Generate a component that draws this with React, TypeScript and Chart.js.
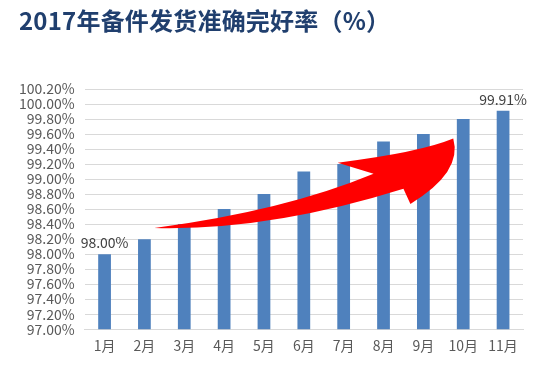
import React, { useEffect, useRef } from "react";
import { Chart, registerables } from "chart.js";

Chart.register(...registerables);

const title = "2017年备件发货准确完好率（%）";
const categories = ["1月", "2月", "3月", "4月", "5月", "6月", "7月", "8月", "9月", "10月", "11月"];
const values = [98.0, 98.2, 98.4, 98.6, 98.8, 99.1, 99.2, 99.5, 99.6, 99.8, 99.91];
const labeledIndices = [0, 10];
const yMin = 97.0;
const yMax = 100.2;
const yStep = 0.2;

// Decorative arrow outline in (category index, value) units
const arrowTail = [1.25, 98.348];
const arrowCtrlTop = [4.5, 98.576];
const arrowNotchTop = [6.75, 99.071];
const arrowWingTop = [5.85, 99.218];
const arrowCtrlOuter = [7.9, 99.352];
const arrowTip = [8.75, 99.539];
const arrowCtrlRight = [8.99, 99.091];
const arrowWingBot = [7.675, 98.669];
const arrowNotchBot = [7.5, 98.87];
const arrowCtrlBot = [4.125, 98.308];

const FONT = "'Noto Sans CJK SC', 'Noto Sans', sans-serif";

const arrowPlugin = {
  id: "arrowDecor",
  afterDatasetsDraw(chart: any) {
    const xs = chart.scales.x;
    const ys = chart.scales.y;
    const p = (pt: number[]) => [xs.getPixelForValue(pt[0]), ys.getPixelForValue(pt[1])];
    const ctx = chart.ctx;
    const t = p(arrowTail);
    const c1 = p(arrowCtrlTop);
    const nt = p(arrowNotchTop);
    const wt = p(arrowWingTop);
    const c2 = p(arrowCtrlOuter);
    const tip = p(arrowTip);
    const c3 = p(arrowCtrlRight);
    const wb = p(arrowWingBot);
    const nb = p(arrowNotchBot);
    const c4 = p(arrowCtrlBot);
    ctx.save();
    ctx.beginPath();
    ctx.moveTo(t[0], t[1]);
    ctx.quadraticCurveTo(c1[0], c1[1], nt[0], nt[1]);
    ctx.lineTo(wt[0], wt[1]);
    ctx.quadraticCurveTo(c2[0], c2[1], tip[0], tip[1]);
    ctx.quadraticCurveTo(c3[0], c3[1], wb[0], wb[1]);
    ctx.lineTo(nb[0], nb[1]);
    ctx.quadraticCurveTo(c4[0], c4[1], t[0], t[1]);
    ctx.closePath();
    ctx.fillStyle = "#FF0000";
    ctx.fill();
    ctx.restore();
  },
};

const valueLabelPlugin = {
  id: "valueLabels",
  afterDatasetsDraw(chart: any) {
    const meta = chart.getDatasetMeta(0);
    const ctx = chart.ctx;
    ctx.save();
    ctx.font = `14px ${FONT}`;
    ctx.fillStyle = "#404040";
    ctx.textAlign = "center";
    ctx.textBaseline = "bottom";
    labeledIndices.forEach((i) => {
      const el = meta.data[i];
      ctx.fillText(values[i].toFixed(2) + "%", el.x, el.y - 4);
    });
    ctx.restore();
  },
};

export default function App() {
  const ref = useRef<HTMLCanvasElement | null>(null);
  useEffect(() => {
    if (!ref.current) return;
    const chart = new Chart(ref.current, {
      type: "bar",
      data: {
        labels: categories,
        datasets: [
          {
            data: values,
            backgroundColor: "#4F81BD",
            barPercentage: 0.32,
            categoryPercentage: 1,
          },
        ],
      },
      options: {
        animation: false,
        responsive: false,
        maintainAspectRatio: false,
        layout: { padding: { left: 9, right: 19, top: 89, bottom: 11 } },
        plugins: {
          legend: { display: false },
          tooltip: { enabled: false },
          title: { display: false },
        },
        scales: {
          x: {
            grid: { display: false, drawTicks: false },
            border: { display: true, color: "#D9D9D9" },
            ticks: { color: "#595959", font: { family: FONT, size: 14 }, padding: 8 },
          },
          y: {
            min: yMin,
            max: yMax,
            grid: { color: "#D9D9D9", drawTicks: false },
            border: { display: false },
            ticks: {
              stepSize: yStep,
              autoSkip: false,
              color: "#595959",
              font: { family: FONT, size: 14, lineHeight: 1 },
              padding: 10,
              callback: (v: any) => Number(v).toFixed(2) + "%",
            },
          },
        },
      },
      plugins: [arrowPlugin, valueLabelPlugin],
    });
    return () => chart.destroy();
  }, []);
  return (
    <div style={{ position: "fixed", left: 0, top: 0, width: 542, height: 373, background: "#fff" }}>
      <div
        style={{
          position: "absolute",
          left: 19,
          top: 2,
          fontFamily: FONT,
          fontWeight: 700,
          fontSize: 24,
          color: "#203F6E",
          whiteSpace: "nowrap",
          letterSpacing: 0.2,
        }}
      >
        {title}
      </div>
      <canvas ref={ref} width={542} height={373} style={{ display: "block" }} />
    </div>
  );
}
